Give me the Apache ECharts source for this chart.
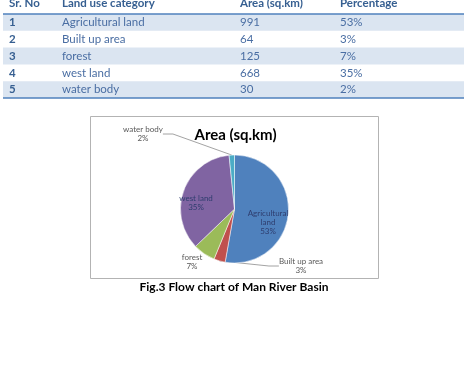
<!DOCTYPE html>
<html>
<head>
<meta charset="utf-8">
<script src="https://cdn.jsdelivr.net/npm/echarts@6/dist/echarts.min.js"></script>
<style>
  html, body { margin: 0; padding: 0; background: #fff; }
  #main { width: 471px; height: 374px; }
</style>
</head>
<body>
<div id="main"></div>
<script>
// table + pie data
const headers = ['Sr. No', 'Land use category', 'Area (sq.km)', 'Percentage']
const srNo = ['1', '2', '3', '4', '5']
const categories = ['Agricultural land', 'Built up area', 'forest', 'west land', 'water body']
const areas = [991, 64, 125, 668, 30]
const percentages = ['53%', '3%', '7%', '35%', '2%']
const pieNames = ['Agricultural\nland', 'Built up area', 'forest', 'west land', 'water body']
const pieTitle = 'Area (sq.km)'
const caption = 'Fig.3 Flow chart of Man River Basin'

const colors = ['#4f81bd', '#c0504d', '#9bbb59', '#8064a2', '#4bacc6']
const font = 'Lato, "Open Sans", sans-serif'

const chart = echarts.init(document.getElementById('main'))

// table drawn as graphic elements
const colX = [9, 62, 240, 340]
const rowTop = 14, rowH = 16.8
const tableEls = []
for (let i = 0; i < categories.length; i++) {
    if (i % 2 === 0) {
        tableEls.push({
            type: 'rect',
            shape: { x: 3, y: rowTop + i * rowH, width: 461, height: rowH },
            style: { fill: '#dbe5f1' }
        })
    }
    const cells = [srNo[i], categories[i], String(areas[i]), percentages[i]]
    cells.forEach((t, c) => {
        tableEls.push({
            type: 'text',
            x: colX[c],
            y: rowTop + i * rowH + rowH / 2,
            style: {
                text: t,
                font: (c === 0 ? 'bold ' : '') + '11.5px ' + font,
                fill: c === 0 ? '#365f91' : '#4a6ea3',
                verticalAlign: 'middle'
            }
        })
    })
}
headers.forEach((h, c) => {
    tableEls.push({
        type: 'text',
        x: colX[c],
        y: 3.5,
        style: { text: h, font: 'bold 11.5px ' + font, fill: '#365f91', verticalAlign: 'middle' }
    })
})
tableEls.push({
    type: 'line', shape: { x1: 3, y1: rowTop, x2: 464, y2: rowTop },
    style: { stroke: '#4f81bd', lineWidth: 1.5 }
})
tableEls.push({
    type: 'line', shape: { x1: 3, y1: rowTop + 5 * rowH, x2: 464, y2: rowTop + 5 * rowH },
    style: { stroke: '#4f81bd', lineWidth: 1.5 }
})

// chart frame + caption
tableEls.push({
    type: 'rect', z: -1,
    shape: { x: 90.5, y: 116.5, width: 288, height: 162 },
    style: { fill: '#fff', stroke: '#b3b3b3', lineWidth: 1 }
})
tableEls.push({
    type: 'text',
    x: 234, y: 287,
    style: { text: caption, font: 'bold 12px ' + font, fill: '#000', align: 'center', verticalAlign: 'middle' }
})

// label spots (x, y, centre of text block)
const labelSpots = [
    [268, 222], [301, 266], [192, 262], [196, 203], [143, 134]
]

const option = {
    backgroundColor: '#fff',
    animation: false,
    title: {
        text: pieTitle,
        left: 'center',
        top: 123,
        textStyle: { fontFamily: font, fontSize: 15, fontWeight: 'bold', color: '#000' }
    },
    graphic: tableEls,
    series: [{
        type: 'pie',
        center: [234.5, 209],
        radius: 54,
        startAngle: 90,
        clockwise: true,
        itemStyle: { borderColor: '#fff', borderWidth: 0.5 },
        label: {
            fontFamily: font,
            fontSize: 8,
            lineHeight: 9,
            color: '#595959',
            align: 'center',
            formatter: p => p.name + '\n' + percentages[p.dataIndex]
        },
        labelLine: {
            show: true,
            length: 10,
            length2: 10,
            smooth: false,
            lineStyle: { color: '#8c8c8c', width: 0.8 }
        },
        labelLayout: p => ({
            x: labelSpots[p.dataIndex][0],
            y: labelSpots[p.dataIndex][1],
            align: 'center',
            verticalAlign: 'middle'
        }),
        data: areas.map((v, i) => ({
            name: pieNames[i],
            value: v,
            itemStyle: { color: colors[i] },
            label: (i === 0 || i === 3)
                ? { color: '#2e3d6e' }
                : {},
            labelLine: { show: i === 1 || i === 4 }
        }))
    }]
}

chart.setOption(option)
</script>
</body>
</html>
